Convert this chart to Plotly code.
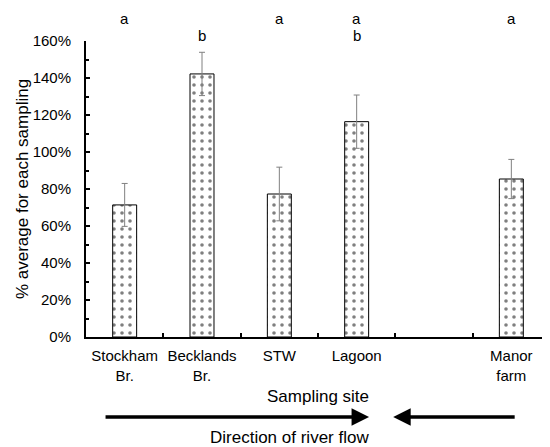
import plotly.graph_objects as go

# ---- data ----
sites = ["Stockham<br>Br.", "Becklands<br>Br.", "STW", "Lagoon", "Manor<br>farm"]
slots = [0, 1, 2, 3, 5]          # category slot (gap left before Manor farm)
means = [0.714, 1.422, 0.773, 1.164, 0.854]
errors = [0.116, 0.117, 0.145, 0.144, 0.106]
letters_top = ["a", "", "a", "a", "a"]
letters_second = ["", "b", "", "b", ""]
n_slots = 6

FONT = "Liberation Sans, Arial, sans-serif"

fig = go.Figure()
fig.add_trace(go.Bar(
    x=slots, y=means, width=0.31,
    marker=dict(color="white", line=dict(color="black", width=1),
                pattern=dict(shape=".", size=8, solidity=0.16,
                             fgcolor="black", bgcolor="white")),
    error_y=dict(type="data", array=errors, color="#808080",
                 thickness=1, width=3),
    showlegend=False,
))

annotations = []
for s, t in zip(slots, letters_top):
    if t:
        annotations.append(dict(x=s, y=1.077, xref="x", yref="paper", text=t,
                                yanchor="middle", showarrow=False,
                                font=dict(size=15, color="black")))
for s, t in zip(slots, letters_second):
    if t:
        annotations.append(dict(x=s, y=1.018, xref="x", yref="paper", text=t,
                                yanchor="middle", showarrow=False,
                                font=dict(size=15, color="black")))

# flow arrows
annotations.append(dict(x=0.61, y=-0.27, xref="paper", yref="paper", text="",
                        showarrow=True, ax=-265, ay=0, arrowhead=2, arrowsize=1,
                        arrowwidth=3.5, arrowcolor="black", standoff=0))
annotations.append(dict(x=0.662, y=-0.27, xref="paper", yref="paper", text="",
                        showarrow=True, ax=123, ay=0, arrowhead=2, arrowsize=1,
                        arrowwidth=3.5, arrowcolor="black", standoff=0))
annotations.append(dict(x=0.4375, y=-0.338, xref="paper", yref="paper",
                        text="Direction of river flow", showarrow=False,
                        yanchor="middle", font=dict(size=17, color="black")))

fig.update_layout(
    width=550, height=447,
    margin=dict(l=78, r=8, t=33, b=118),
    paper_bgcolor="white", plot_bgcolor="white",
    font=dict(family=FONT, size=15, color="black"),
    annotations=annotations,
    xaxis=dict(
        range=[-0.5, n_slots - 0.5], automargin=False,
        tickmode="array", tickvals=slots, ticktext=sites, ticks="",
        minor=dict(tickmode="array", tickvals=[i + 0.5 for i in range(n_slots - 1)],
                   ticks="inside", ticklen=4, tickwidth=2, tickcolor="black"),
        showline=True, linewidth=2, linecolor="black",
        showgrid=False, zeroline=False,
        ticklabelstandoff=4,
        title=dict(text="Sampling site", font=dict(size=17), standoff=8),
    ),
    yaxis=dict(
        range=[0, 1.6], dtick=0.2, tickformat=".0%", automargin=False,
        ticks="inside", ticklen=4, tickwidth=2, tickcolor="black",
        minor=dict(dtick=0.1, ticks="inside", ticklen=3, tickwidth=2, tickcolor="black"),
        showline=True, linewidth=2, linecolor="black",
        showgrid=False, zeroline=False,
        ticklabelstandoff=10,
        title=dict(text="% average for each sampling", font=dict(size=17), standoff=0),
    ),
)

fig.write_html("out.html")
